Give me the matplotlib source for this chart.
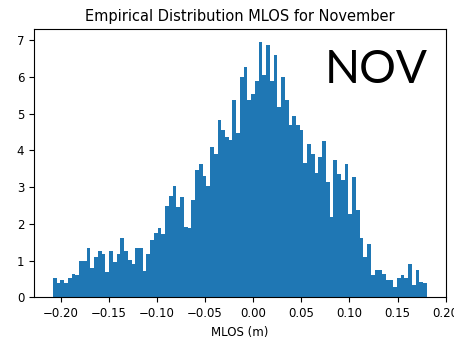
import numpy as np
import matplotlib
matplotlib.use("Agg")
import matplotlib.pyplot as plt

# плотность по бинам (100 бинов)
density = [
    0.53, 0.38, 0.47, 0.38, 0.53, 0.63, 0.61, 1.00, 0.98, 1.34,
    0.81, 1.10, 1.25, 1.17, 0.70, 1.25, 0.97, 1.17, 1.61, 1.25,
    1.01, 0.91, 1.35, 1.35, 0.71, 1.18, 1.55, 1.75, 1.88, 1.72,
    2.49, 2.75, 3.02, 2.46, 2.72, 1.92, 1.89, 2.66, 3.46, 3.63,
    3.30, 3.03, 4.10, 3.90, 4.84, 4.55, 4.37, 4.28, 5.37, 4.47,
    6.00, 6.28, 5.36, 5.54, 5.90, 6.95, 6.06, 6.86, 5.90, 6.59,
    5.18, 6.00, 5.38, 4.68, 4.93, 4.68, 4.55, 3.67, 4.17, 3.89,
    3.39, 3.82, 4.27, 3.13, 2.19, 3.73, 3.37, 3.19, 3.64, 2.26,
    3.28, 2.37, 1.62, 1.09, 1.44, 0.61, 0.74, 0.74, 0.63, 0.47,
    0.47, 0.27, 0.54, 0.61, 0.54, 0.91, 0.34, 0.74, 0.42, 0.38,
]
mlos_min = -0.208
mlos_max = 0.1805
month_tag = "NOV"

edges = np.linspace(mlos_min, mlos_max, len(density) + 1)
centers = (edges[:-1] + edges[1:]) / 2

fig = plt.figure(figsize=(4.54, 3.41), dpi=100)
ax = fig.add_axes([0.075, 0.128, 0.907, 0.786])

ax.hist(centers, bins=edges, weights=density)
ax.set_xlim(-0.2277, 0.2002)

ax.set_title("Empirical Distribution MLOS for November", fontsize=10.5)
ax.set_xlabel("MLOS (m)", fontsize=8.5)
ax.tick_params(labelsize=8.5)

fig.text(0.715, 0.756, month_tag, fontsize=33, family="Lato", color="black")

fig.savefig("out.png", dpi=100)
